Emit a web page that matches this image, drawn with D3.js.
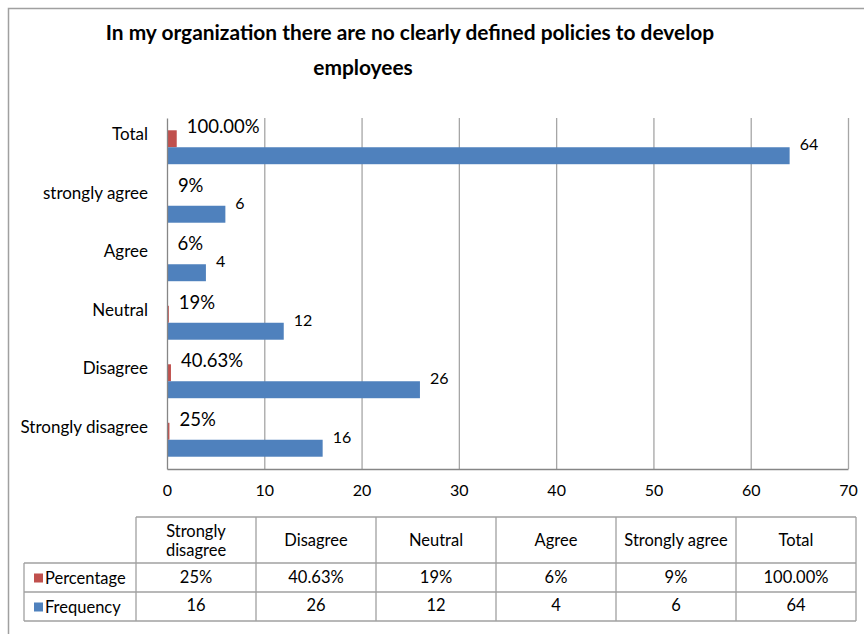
<!DOCTYPE html>
<html><head><meta charset="utf-8">
<script src="https://cdn.jsdelivr.net/npm/d3@7"></script>
<style>body{margin:0;background:#fff}svg{display:block}text{font-family:Lato,"Open Sans",sans-serif;fill:#000}</style>
</head><body>
<script>
const categories = ["Strongly disagree","Disagree","Neutral","Agree","strongly agree","Total"];
const tableHeaders = ["Strongly disagree","Disagree","Neutral","Agree","Strongly agree","Total"];
const percentValues = [0.25,0.4063,0.19,0.06,0.09,1.0];
const percentLabels = ["25%","40.63%","19%","6%","9%","100.00%"];
const frequencyValues = [16,26,12,4,6,64];
const xTicks = [0,10,20,30,40,50,60,70];
const seriesNames = ["Percentage","Frequency"];
const colors = {Percentage:"#c0504d", Frequency:"#4f81bd"};

(function(){
const W=864,H=634;
const svg=d3.select("body").append("svg").attr("width",W).attr("height",H);
svg.append("rect").attr("width",W).attr("height",H).attr("fill","#fff");
svg.append("path").attr("d",`M8.5,${H} V8.5 H${W}`).attr("fill","none").attr("stroke","#a0a0a0").attr("stroke-width",1.5);

const title=svg.append("text").attr("text-anchor","middle").attr("font-weight","bold").attr("font-size",20.9);
title.append("tspan").attr("x",410).attr("y",40).text("In my organization there are no clearly defined policies to develop");
title.append("tspan").attr("x",363).attr("y",75).text("employees");

const pLeft=167,pRight=848,pTop=118,pBottom=469;
const x=d3.scaleLinear().domain([0,70]).range([pLeft,pRight]);
const y=d3.scaleBand().domain(categories.slice().reverse()).range([pTop,pBottom]).paddingInner(0.42).paddingOuter(0.21);
const sub=d3.scaleBand().domain(seriesNames).range([0,y.bandwidth()]);

svg.append("g").selectAll("line").data(xTicks.slice(1)).join("line")
 .attr("x1",d=>x(d)+0.5).attr("x2",d=>x(d)+0.5).attr("y1",pTop).attr("y2",pBottom)
 .attr("stroke","#a6a6a6").attr("stroke-width",1.3);

const rows=categories.map((c,i)=>({c,p:percentValues[i],pl:percentLabels[i],f:frequencyValues[i]}));
svg.append("g").selectAll("rect").data(rows).join("rect")
 .attr("x",x(0)).attr("y",d=>y(d.c)+sub("Percentage")).attr("width",d=>x(d.p)-x(0)).attr("height",sub.bandwidth())
 .attr("fill",colors.Percentage);
svg.append("g").selectAll("rect").data(rows).join("rect")
 .attr("x",x(0)).attr("y",d=>y(d.c)+sub("Frequency")).attr("width",d=>x(d.f)-x(0)).attr("height",sub.bandwidth())
 .attr("fill",colors.Frequency);

svg.append("g").selectAll("text").data(rows).join("text")
 .attr("x",d=>x(d.p)+10).attr("y",d=>y(d.c)+sub("Percentage")+sub.bandwidth()/2-12).attr("dy","0.35em")
 .attr("font-size",18.5).attr("fill","#222").text(d=>d.pl);
svg.append("g").selectAll("text").data(rows).join("text")
 .attr("x",d=>x(d.f)+10).attr("y",d=>y(d.c)+sub("Frequency")+sub.bandwidth()/2-11).attr("dy","0.35em")
 .attr("font-size",16).attr("fill","#222").text(d=>d.f);

const yAxis=svg.append("g").attr("transform",`translate(${pLeft},0)`).call(d3.axisLeft(y).tickSize(0).tickPadding(19));
yAxis.select(".domain").attr("stroke","#868686").attr("stroke-width",1.3);
yAxis.selectAll(".tick text").attr("font-size",17).attr("fill","#222").attr("dy","0.35em").attr("y",-13).style("font-family","Lato");
const xAxis=svg.append("g").attr("transform",`translate(0,${pBottom})`).call(d3.axisBottom(x).tickValues(xTicks).tickSize(0).tickPadding(16).tickFormat(d3.format("d")));
xAxis.select(".domain").attr("stroke","#868686").attr("stroke-width",1.3);
xAxis.selectAll("text").attr("font-size",16).attr("fill","#222").style("font-family","Lato");

const tLeft=136,colW=120,legendLeft=24;
const rowY=[517,563,592,621];
const tg=svg.append("g").attr("fill","none").attr("stroke","#a0a0a0").attr("stroke-width",1.3);
tg.append("line").attr("x1",tLeft).attr("x2",tLeft+colW*6).attr("y1",rowY[0]).attr("y2",rowY[0]);
[1,2,3].forEach(i=>tg.append("line").attr("x1",legendLeft).attr("x2",tLeft+colW*6).attr("y1",rowY[i]).attr("y2",rowY[i]));
tg.append("line").attr("x1",legendLeft).attr("x2",legendLeft).attr("y1",rowY[1]).attr("y2",rowY[3]);
d3.range(7).forEach(i=>tg.append("line").attr("x1",tLeft+colW*i).attr("x2",tLeft+colW*i).attr("y1",rowY[0]).attr("y2",rowY[3]));

const hdr=svg.append("g").selectAll("text").data(tableHeaders).join("text")
 .attr("text-anchor","middle").attr("font-size",16.5).attr("fill","#222");
hdr.each(function(d,i){
  const t=d3.select(this), cx=tLeft+colW*i+colW/2;
  if(i===0){
    t.append("tspan").attr("x",cx).attr("y",537).text("Strongly");
    t.append("tspan").attr("x",cx).attr("y",556).text("disagree");
  } else t.append("tspan").attr("x",cx).attr("y",546).text(d);
});
svg.append("g").selectAll("text").data(percentLabels).join("text")
 .attr("x",(d,i)=>tLeft+colW*i+colW/2).attr("y",583).attr("text-anchor","middle").attr("font-size",16.5).attr("fill","#222").text(d=>d);
svg.append("g").selectAll("text").data(frequencyValues).join("text")
 .attr("x",(d,i)=>tLeft+colW*i+colW/2).attr("y",611).attr("text-anchor","middle").attr("font-size",16.5).attr("fill","#222").text(d=>d);

seriesNames.forEach((s,i)=>{
  const cy=(rowY[i+1]+rowY[i+2])/2;
  svg.append("rect").attr("x",34).attr("y",cy-4).attr("width",9).attr("height",9).attr("fill",colors[s]);
  svg.append("text").attr("x",45).attr("y",cy+1).attr("dy","0.35em").attr("font-size",16.5).attr("fill","#222").text(s);
});
})();
</script>
</body></html>
